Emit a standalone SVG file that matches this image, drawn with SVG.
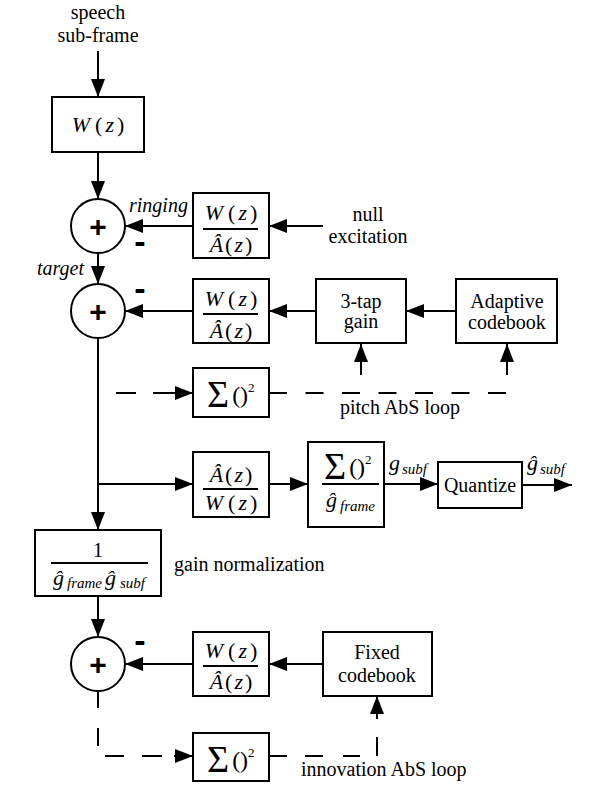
<svg xmlns="http://www.w3.org/2000/svg" width="607" height="790" viewBox="0 0 607 790">
<style>
.bx{fill:#fff;stroke:#000;stroke-width:2}
.ln{fill:none;stroke:#000;stroke-width:2}
.ds{fill:none;stroke:#000;stroke-width:2;stroke-dasharray:18 18.5}
.fl{stroke:#000;stroke-width:2}
.t{font-family:"Liberation Serif","Times New Roman",serif;font-size:20px;fill:#000}
.m{font-family:"Liberation Serif","Times New Roman",serif;font-size:22px;fill:#000}
.i{font-style:italic}
.sb{font-family:"Liberation Serif","Times New Roman",serif;font-size:15px;font-style:italic;fill:#000}
.pl{font-family:"Liberation Sans",Arial,sans-serif;font-weight:bold;font-size:30px;fill:#000}
.mn{font-family:"Liberation Sans",Arial,sans-serif;font-weight:bold;font-size:34px;fill:#000}
</style>
<defs>
<marker id="ah" markerUnits="userSpaceOnUse" markerWidth="18" markerHeight="14" refX="18" refY="7" orient="auto">
<path d="M0,0 L18,7 L0,14 z" fill="#000"/>
</marker>
</defs>

<g id="connectors">
<path class="ln" d="M98,51 V97" marker-end="url(#ah)"/>
<path class="ln" d="M98,152 V199" marker-end="url(#ah)"/>
<path class="ln" d="M98,253 V284" marker-end="url(#ah)"/>
<path class="ln" d="M98,338 V530" marker-end="url(#ah)"/>
<path class="ln" d="M323,226 H269" marker-end="url(#ah)"/>
<path class="ln" d="M193,226 H125" marker-end="url(#ah)"/>
<path class="ln" d="M456,311 H406" marker-end="url(#ah)"/>
<path class="ln" d="M316,311 H269" marker-end="url(#ah)"/>
<path class="ln" d="M193,311 H125" marker-end="url(#ah)"/>
<path class="ln" d="M361,375 V344" marker-end="url(#ah)"/>
<path class="ln" d="M507,375 V344" marker-end="url(#ah)"/>
<path class="ln" d="M116,393 H136 M153,393 H193" marker-end="url(#ah)"/>
<path class="ds" d="M269,393 H508"/>
<path class="ln" d="M98,484 H193" marker-end="url(#ah)"/>
<path class="ln" d="M269,484 H308" marker-end="url(#ah)"/>
<path class="ln" d="M384,484 H438" marker-end="url(#ah)"/>
<path class="ln" d="M522,485 H572" marker-end="url(#ah)"/>
<path class="ln" d="M98,596 V637" marker-end="url(#ah)"/>
<path class="ln" d="M323,664 H269" marker-end="url(#ah)"/>
<path class="ln" d="M193,664 H125" marker-end="url(#ah)"/>
<path class="ln" d="M98,692 V708 M98,728 V746 M105,756 H124 M142,756 H162"/>
<path class="ln" d="M174,756 H193" marker-end="url(#ah)"/>
<path class="ln" d="M269,756 H287 M305,756 H323 M343,756 H360 M377,756 V737"/>
<path class="ln" d="M377,719 V696" marker-end="url(#ah)"/>
</g>

<g id="speech_label">
<text class="t" x="98" y="19" text-anchor="middle">speech</text>
<text class="t" x="98" y="42" text-anchor="middle">sub-frame</text>
</g>

<g id="W_box">
<rect class="bx" x="52" y="97" width="92" height="55"/>
<text class="m" x="98" y="132" text-anchor="middle"><tspan class="i">W</tspan><tspan dx="5">(</tspan><tspan class="i" dx="3">z</tspan><tspan dx="3">)</tspan></text>
</g>

<g id="sum1">
<circle class="bx" cx="98" cy="226" r="27"/>
<text class="pl" x="98" y="237" text-anchor="middle">+</text>
<text class="mn" x="140" y="253" text-anchor="middle">-</text>
<text class="t i" x="129" y="212">ringing</text>
<text class="t i" x="37" y="275">target</text>
</g>

<g id="ringing_filter">
<rect class="bx" x="193" y="193" width="76" height="65"/>
<text class="m" x="231" y="220" text-anchor="middle"><tspan class="i">W</tspan><tspan dx="5">(</tspan><tspan class="i" dx="3">z</tspan><tspan dx="3">)</tspan></text>
<line class="fl" x1="203" y1="229" x2="258" y2="229"/>
<text class="m" x="231" y="252" text-anchor="middle"><tspan class="i">Â</tspan><tspan dx="2">(</tspan><tspan class="i" dx="2">z</tspan><tspan dx="2">)</tspan></text>
</g>

<g id="null_excitation">
<text class="t" x="368" y="221" text-anchor="middle">null</text>
<text class="t" x="368" y="243" text-anchor="middle">excitation</text>
</g>

<g id="sum2">
<circle class="bx" cx="98" cy="311" r="27"/>
<text class="pl" x="98" y="322" text-anchor="middle">+</text>
<text class="mn" x="140" y="300" text-anchor="middle">-</text>
</g>

<g id="pitch_filter">
<rect class="bx" x="193" y="279" width="76" height="64"/>
<text class="m" x="231" y="306" text-anchor="middle"><tspan class="i">W</tspan><tspan dx="5">(</tspan><tspan class="i" dx="3">z</tspan><tspan dx="3">)</tspan></text>
<line class="fl" x1="203" y1="314" x2="258" y2="314"/>
<text class="m" x="231" y="338" text-anchor="middle"><tspan class="i">Â</tspan><tspan dx="2">(</tspan><tspan class="i" dx="2">z</tspan><tspan dx="2">)</tspan></text>
</g>

<g id="tap_gain">
<rect class="bx" x="316" y="279" width="90" height="64"/>
<text class="t" x="361" y="308" text-anchor="middle">3-tap</text>
<text class="t" x="361" y="328" text-anchor="middle">gain</text>
</g>

<g id="adaptive_codebook">
<rect class="bx" x="456" y="279" width="101" height="64"/>
<text class="t" x="507" y="308" text-anchor="middle">Adaptive</text>
<text class="t" x="507" y="329" text-anchor="middle">codebook</text>
</g>

<g id="pitch_sum">
<rect class="bx" x="193" y="368" width="76" height="49"/>
<text class="m" x="207" y="407"><tspan font-size="38">Σ</tspan><tspan font-size="24" dx="3" dy="-4">()</tspan><tspan font-size="13" dy="-11">2</tspan></text>
<text class="t" x="340" y="414">pitch AbS loop</text>
</g>

<g id="inverse_filter">
<rect class="bx" x="193" y="452" width="76" height="65"/>
<text class="m" x="231" y="482" text-anchor="middle"><tspan class="i">Â</tspan><tspan dx="2">(</tspan><tspan class="i" dx="2">z</tspan><tspan dx="2">)</tspan></text>
<line class="fl" x1="203" y1="489" x2="258" y2="489"/>
<text class="m" x="231" y="510" text-anchor="middle"><tspan class="i">W</tspan><tspan dx="5">(</tspan><tspan class="i" dx="3">z</tspan><tspan dx="3">)</tspan></text>
</g>

<g id="gain_estimate">
<rect class="bx" x="308" y="442" width="76" height="85"/>
<text class="m" x="324" y="479"><tspan font-size="38">Σ</tspan><tspan font-size="24" dx="3" dy="-4">()</tspan><tspan font-size="13" dy="-11">2</tspan></text>
<line class="fl" x1="322" y1="484" x2="379" y2="484"/>
<text class="m i" x="326" y="507">ĝ</text>
<text class="sb" x="340" y="511">frame</text>
<text class="m i" x="389" y="470">g</text>
<text class="sb" x="402" y="474">subf</text>
</g>

<g id="quantize">
<rect class="bx" x="438" y="462" width="84" height="46"/>
<text class="t" x="480" y="492" text-anchor="middle">Quantize</text>
<text class="m i" x="527" y="470">ĝ</text>
<text class="sb" x="540" y="474">subf</text>
</g>

<g id="gain_normalization">
<rect class="bx" x="35" y="530" width="126" height="66"/>
<text class="t" x="98" y="557" text-anchor="middle">1</text>
<line class="fl" x1="51" y1="563" x2="148" y2="563"/>
<text class="m i" x="53" y="585">ĝ</text>
<text class="sb" x="67" y="588">frame</text>
<text class="m i" x="105" y="585">ĝ</text>
<text class="sb" x="120" y="588">subf</text>
<text class="t" x="174" y="571">gain normalization</text>
</g>

<g id="sum3">
<circle class="bx" cx="98" cy="664" r="27"/>
<text class="pl" x="98" y="675" text-anchor="middle">+</text>
<text class="mn" x="140" y="652" text-anchor="middle">-</text>
</g>

<g id="fixed_filter">
<rect class="bx" x="193" y="632" width="76" height="64"/>
<text class="m" x="231" y="658" text-anchor="middle"><tspan class="i">W</tspan><tspan dx="5">(</tspan><tspan class="i" dx="3">z</tspan><tspan dx="3">)</tspan></text>
<line class="fl" x1="203" y1="666" x2="258" y2="666"/>
<text class="m" x="231" y="689" text-anchor="middle"><tspan class="i">Â</tspan><tspan dx="2">(</tspan><tspan class="i" dx="2">z</tspan><tspan dx="2">)</tspan></text>
</g>

<g id="fixed_codebook">
<rect class="bx" x="323" y="632" width="109" height="64"/>
<text class="t" x="377" y="659" text-anchor="middle">Fixed</text>
<text class="t" x="377" y="682" text-anchor="middle">codebook</text>
</g>

<g id="innovation_sum">
<rect class="bx" x="193" y="733" width="76" height="48"/>
<text class="m" x="207" y="772"><tspan font-size="38">Σ</tspan><tspan font-size="24" dx="3" dy="-4">()</tspan><tspan font-size="13" dy="-11">2</tspan></text>
<text class="t" x="301" y="776">innovation AbS loop</text>
</g>
</svg>
